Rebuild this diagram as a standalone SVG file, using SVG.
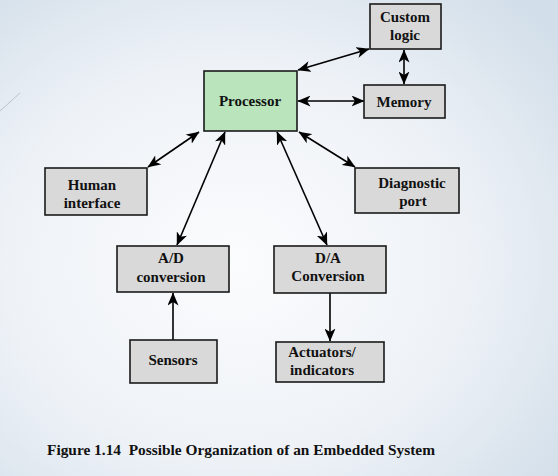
<svg xmlns="http://www.w3.org/2000/svg" width="558" height="476" viewBox="0 0 558 476">
<style>
.box{fill:#d9d9d9;stroke:#1a1a1a;stroke-width:1.6}
.proc{fill:#b9e4bc;stroke:#1a1a1a;stroke-width:1.6}
text{font-family:"Liberation Serif","Times New Roman",serif;font-weight:bold;font-size:15px;fill:#111;text-anchor:middle}
.cap{font-size:15px;text-anchor:start}
.con line{stroke:#000;stroke-width:1.6;fill:none}
</style>
<defs>
<radialGradient id="bg" cx="0.42" cy="0.55" r="0.75">
<stop offset="0" stop-color="#fbfcfd"/>
<stop offset="0.55" stop-color="#eef2f7"/>
<stop offset="1" stop-color="#d2dee9"/>
</radialGradient>
<marker id="ah" viewBox="0 0 13 11" refX="12.5" refY="5.5" markerWidth="13" markerHeight="11" markerUnits="userSpaceOnUse" orient="auto-start-reverse">
<path d="M0,0 L13,5.5 L0,11 L3.5,5.5 z" fill="#000"/>
</marker>
</defs>
<rect width="558" height="476" fill="url(#bg)"/>
<line x1="0" y1="111" x2="20" y2="93" stroke="#b8c2cc" stroke-width="1"/>
<g class="con">
<line x1="298" y1="70" x2="369" y2="49" marker-start="url(#ah)" marker-end="url(#ah)"/>
<line x1="404" y1="50" x2="404" y2="84" marker-start="url(#ah)" marker-end="url(#ah)"/>
<line x1="298" y1="101" x2="364" y2="101" marker-start="url(#ah)" marker-end="url(#ah)"/>
<line x1="199" y1="132" x2="148" y2="167" marker-start="url(#ah)" marker-end="url(#ah)"/>
<line x1="225" y1="132" x2="177" y2="245" marker-start="url(#ah)" marker-end="url(#ah)"/>
<line x1="277" y1="132" x2="327" y2="245" marker-start="url(#ah)" marker-end="url(#ah)"/>
<line x1="299" y1="132" x2="355" y2="167" marker-start="url(#ah)" marker-end="url(#ah)"/>
<line x1="173" y1="340" x2="173" y2="293" marker-end="url(#ah)"/>
<line x1="330" y1="293" x2="330" y2="341" marker-end="url(#ah)"/>
</g>
<g id="custom-logic"><rect class="box" x="370" y="4" width="71" height="45"/><text x="405" y="22">Custom</text><text x="405" y="40">logic</text></g>
<g id="memory"><rect class="box" x="364" y="85" width="81" height="33"/><text x="404" y="107">Memory</text></g>
<g id="processor"><rect class="proc" x="204" y="71" width="93" height="60"/><text x="250" y="106">Processor</text></g>
<g id="human-interface"><rect class="box" x="45" y="168" width="102" height="47"/><text x="92" y="190">Human</text><text x="92" y="208">interface</text></g>
<g id="diagnostic-port"><rect class="box" x="355" y="168" width="104" height="45"/><text x="412" y="188">Diagnostic</text><text x="413" y="206">port</text></g>
<g id="ad-conversion"><rect class="box" x="117" y="246" width="112" height="46"/><text x="171" y="263">A/D</text><text x="171" y="282">conversion</text></g>
<g id="da-conversion"><rect class="box" x="274" y="246" width="112" height="47"/><text x="328" y="263">D/A</text><text x="328" y="281">Conversion</text></g>
<g id="sensors"><rect class="box" x="130" y="340" width="87" height="43"/><text x="173" y="365">Sensors</text></g>
<g id="actuators"><rect class="box" x="276" y="342" width="108" height="40"/><text x="322" y="357">Actuators/</text><text x="322" y="375">indicators</text></g>
<text class="cap" x="47" y="455" textLength="388" lengthAdjust="spacingAndGlyphs" xml:space="preserve">Figure 1.14  Possible Organization of an Embedded System</text>
</svg>
